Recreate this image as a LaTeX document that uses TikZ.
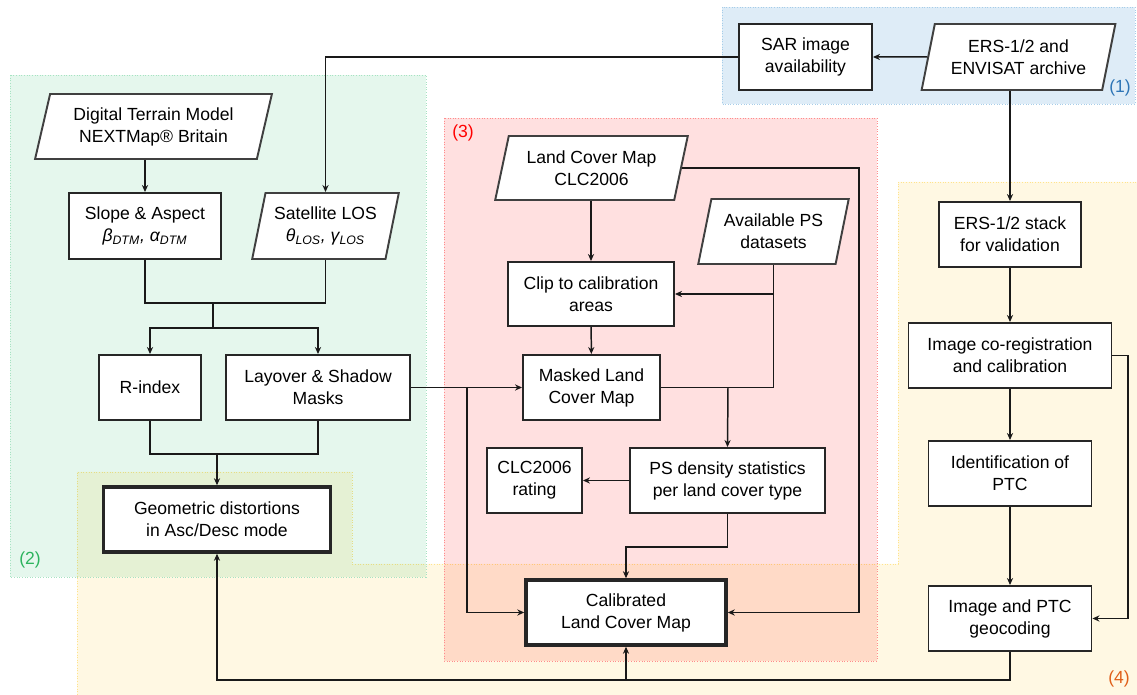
\documentclass[tikz,border=0pt]{standalone}
\usepackage{fontspec}
\setmainfont{Liberation Sans}
\usepackage{xcolor}
\usepackage{tikz}
\usetikzlibrary{positioning,calc,shapes,arrows.meta}

\definecolor{grpyel}{HTML}{FFC000}
\definecolor{grpgrn}{HTML}{00B050}
\definecolor{grpred}{HTML}{FF0000}
\definecolor{grpblu}{HTML}{0070C0}
\definecolor{labgrn}{HTML}{2DB45E}
\definecolor{laborg}{HTML}{E0601A}
\definecolor{labblu}{HTML}{2E75B6}

\tikzset{
  proc/.style={rectangle, draw=black!85, line width=1.1pt, fill=white, align=center, inner sep=2pt},
  procbold/.style={proc, line width=2pt},
  datain/.style={trapezium, trapezium left angle=75, trapezium right angle=105, trapezium stretches=true,
    draw=black!75, line width=1.1pt, fill=white, align=center, inner sep=2pt},
  conn/.style={line width=0.85pt, black!90},
  arr/.style={conn, -{Stealth[length=4pt,width=3.5pt]}},
  grp/.style={densely dotted, line width=0.5pt},
}

\begin{document}
\begin{tikzpicture}[x=0.02cm, y=-0.02cm, font=\fontsize{10}{12.5}\selectfont]
\useasboundingbox (0,0) rectangle (1137,695);

% groups
\fill[grpyel, fill opacity=0.11] (77,472) -- (352,472) -- (352,564) -- (898,564) -- (898,182) -- (1137,182) -- (1137,695) -- (77,695) -- cycle;
\draw[grp, draw=grpyel!45] (77,695) -- (77,472) -- (352,472) -- (352,564) -- (898,564) -- (898,182) -- (1137,182);
\fill[grpgrn, fill opacity=0.10] (10,75) rectangle (426,577);
\draw[grp, draw=grpgrn!35] (10,75) rectangle (426,577);
\fill[grpred, fill opacity=0.12] (444,118) rectangle (877,661);
\draw[grp, draw=grpred!45] (444,118) rectangle (877,661);
\fill[grpblu, fill opacity=0.13] (722,7) rectangle (1135,104);
\draw[grp, draw=grpblu!35] (722,7) rectangle (1135,104);

\node[text=labblu] (lab1) at (1120,88) {(1)};
\node[text=labgrn] (lab2) at (30,560) {(2)};
\node[text=grpred] (lab3) at (463,133) {(3)};
\node[text=laborg] (lab4) at (1119,679) {(4)};

% (1)
\node[proc, minimum width=2.66cm, minimum height=1.32cm] (sar) at (805.5,57) {SAR image\\availability};
\node[datain, minimum width=3.9cm, minimum height=1.32cm] (ers) at (1018.5,57) {ERS-1/2 and\\ENVISAT archive};

% (2)
\node[datain, minimum width=4.74cm, minimum height=1.3cm] (dtm) at (153.5,126.5) {Digital Terrain Model\\NEXTMap® Britain};
\node[proc, minimum width=3.04cm, minimum height=1.32cm] (slope) at (145,226) {Slope \& Aspect\\\textit{β\textsubscript{DTM}, α\textsubscript{DTM}}};
\node[datain, minimum width=2.94cm, minimum height=1.32cm] (los) at (325.5,226) {Satellite LOS\\\textit{θ\textsubscript{LOS}, γ\textsubscript{LOS}}};
\node[proc, minimum width=2.04cm, minimum height=1.3cm] (rind) at (150,387.5) {R-index};
\node[proc, minimum width=3.68cm, minimum height=1.3cm] (lay) at (318,387.5) {Layover \& Shadow\\Masks};
\node[procbold, minimum width=4.54cm, minimum height=1.3cm] (geo) at (217,519.5) {Geometric distortions\\in Asc/Desc mode};

% (3)
\node[datain, minimum width=3.86cm, minimum height=1.28cm] (lcm) at (591.5,168) {Land Cover Map\\CLC2006};
\node[datain, minimum width=3.02cm, minimum height=1.3cm] (ps) at (773.5,231.5) {Available PS\\datasets};
\node[proc, minimum width=3.32cm, minimum height=1.28cm] (clip) at (591,294) {Clip to calibration\\areas};
\node[proc, minimum width=2.74cm, minimum height=1.3cm] (mask) at (591.5,387.5) {Masked Land\\Cover Map};
\node[proc, minimum width=3.9cm, minimum height=1.3cm] (dens) at (727.5,480.5) {PS density statistics\\per land cover type};
\node[proc, minimum width=1.9cm, minimum height=1.3cm] (rate) at (534.5,480.5) {CLC2006\\rating};
\node[procbold, minimum width=4cm, minimum height=1.3cm] (cal) at (626,612.5) {Calibrated\\Land Cover Map};

% (4)
\node[proc, minimum width=2.84cm, minimum height=1.3cm] (stack) at (1010,234.5) {ERS-1/2 stack\\for validation};
\node[proc, minimum width=4.06cm, minimum height=1.3cm] (coreg) at (1010,355.5) {Image co-registration\\and calibration};
\node[proc, minimum width=3.26cm, minimum height=1.3cm] (ident) at (1010,473.5) {Identification of\\PTC};
\node[proc, minimum width=3.26cm, minimum height=1.3cm] (geoc) at (1010,618.5) {Image and PTC\\geocoding};

% junctions
\coordinate (jn1) at (213,303);
\coordinate (jn2) at (213,328);
\coordinate (jn3) at (217,454);
\coordinate (jl) at (467,387.5);
\coordinate (jm) at (728,387.5);
\coordinate (jc) at (680,547);
\coordinate (jb) at (626,680);
\coordinate (rbus) at (859,0);
\coordinate (jr) at (1128,0);

% connectors
\draw[arr] (ers) -- (sar);
\draw[arr] (sar.west) -| (los.north);
\draw[arr] (stack.north |- ers.south) -- (stack.north);
\draw[arr] (dtm.south -| slope.north) -- (slope.north);
\draw[conn] (slope.south) |- (jn1) -| (los.south);
\draw[conn] (jn1) -- (jn2);
\draw[arr] (jn2) -| (rind.north);
\draw[arr] (jn2) -| (lay.north);
\draw[conn] (rind.south) |- (jn3);
\draw[conn] (lay.south) |- (jn3);
\draw[arr] (jn3) -- (geo.north);
\draw[arr] (lay.east) -- (mask.west);
\draw[arr] (jl) |- (cal.west);
\draw[arr] (lcm.south -| clip.north) -- (clip.north);
\draw[arr] (lcm.east) -| (rbus |- cal.east) -- (cal.east);
\draw[arr] (clip) -- (mask);
\draw[conn] (ps.south) |- (mask.east);
\draw[arr] (ps.south |- clip.east) -- (clip.east);
\draw[arr] (jm) -- (dens.north);
\draw[arr] (dens.west) -- (rate.east);
\draw[arr] (dens.south) |- (jc) -| (cal.north);
\draw[arr] (stack) -- (coreg);
\draw[arr] (coreg) -- (ident);
\draw[arr] (ident) -- (geoc);
\draw[arr] (coreg.east) -| (jr |- geoc.east) -- (geoc.east);
\draw[conn] (geoc.south) |- (jb);
\draw[arr] (jb) -- (cal.south);
\draw[arr] (jb) -| (geo.south);

\end{tikzpicture}
\end{document}
